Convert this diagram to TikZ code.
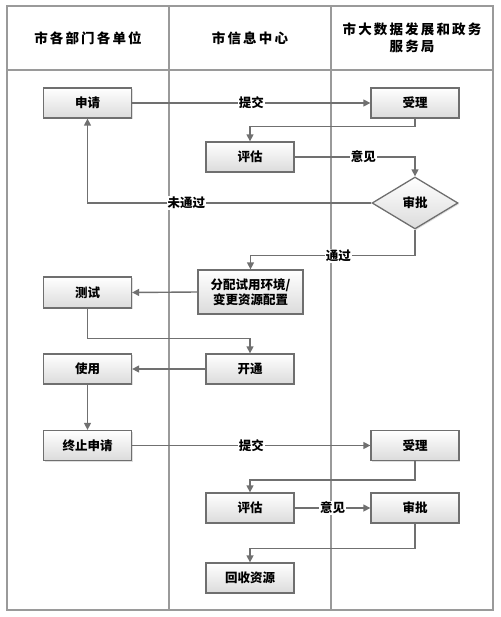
\documentclass[tikz,border=0pt]{standalone}
\usepackage{fontspec}
\newfontfamily\cjk{Noto Sans CJK SC}
\newfontfamily\cjkhead{Noto Sans CJK SC}[LetterSpace=16]
\usetikzlibrary{arrows.meta,shapes.geometric,calc,shadows}
\definecolor{lanecol}{HTML}{9A9A9A}
\definecolor{boxcol}{HTML}{6F6F6F}
\definecolor{linecol}{HTML}{707070}
\tikzset{
  lane/.style={draw=lanecol,line width=2pt},
  procbox/.style={draw=boxcol,line width=1.3pt,top color=white,bottom color=black!14,
    drop shadow={opacity=0.25,shadow xshift=1.2pt,shadow yshift=-1.2pt},
    minimum width=88pt,minimum height=30pt,inner sep=1pt,align=center,
    font=\cjk\bfseries\fontsize{12.5}{14.5}\selectfont},
  decbox/.style={diamond,draw=boxcol,line width=1.3pt,top color=white,bottom color=black!14,
    drop shadow={opacity=0.25,shadow xshift=1.2pt,shadow yshift=-1.2pt},
    minimum width=86pt,minimum height=52pt,aspect=1.65,inner sep=0pt,
    font=\cjk\bfseries\fontsize{12.5}{14.5}\selectfont},
  conn/.style={draw=linecol,line width=1.4pt,-{Triangle[length=7pt,width=7pt]}},
  lbl/.style={fill=white,inner sep=1pt,font=\cjk\bfseries\fontsize{12.5}{14.5}\selectfont},
  headtxt/.style={align=center,font=\cjkhead\bfseries\fontsize{13.5}{17}\selectfont}
}
\begin{document}
\begin{tikzpicture}[x=1pt,y=-1pt]
\useasboundingbox (0,0) rectangle (500,617);
% swimlane frame
\draw[lane] (7,6) rectangle (493,610);
\draw[lane] (7,70) -- (493,70);
\draw[lane] (169,6) -- (169,610);
\draw[lane] (331,6) -- (331,610);
\node[headtxt] (h1) at (88,38) {市各部门各单位};
\node[headtxt] (h2) at (250,38) {市信息中心};
\node[headtxt] (h3) at (412,38) {市大数据发展和政务\\服务局};
% nodes
\node[procbox] (sq) at (87.5,103) {申请};
\node[procbox] (sl1) at (415,103) {受理};
\node[procbox] (pg1) at (250,157) {评估};
\node[decbox] (sp1) at (415,203) {审批};
\node[procbox,minimum width=105pt,minimum height=44pt] (fp) at (250.5,292) {分配试用环境/\\变更资源配置};
\node[procbox,minimum height=31pt] (cs) at (87.5,292.5) {测试};
\node[procbox] (kt) at (250,369) {开通};
\node[procbox] (sy) at (87.5,369) {使用};
\node[procbox] (zz) at (87.5,445.5) {终止申请};
\node[procbox] (sl2) at (415,445.5) {受理};
\node[procbox] (pg2) at (250,508) {评估};
\node[procbox] (sp2) at (415,508) {审批};
\node[procbox] (hs) at (250,578) {回收资源};
% connectors
\draw[conn] (sq.east) -- node[lbl,pos=0.5]{提交} (sl1.west);
\draw[conn] (sl1.south) -- ++(0,8) -| (pg1.north);
\draw[conn] (pg1.east) -| node[lbl,pos=0.285]{意见} (sp1.north);
\draw[conn] (sp1.west) -| node[lbl,pos=0.326]{未通过} (sq.south);
\draw[conn] (sp1.south) -- ++(0,26) -| node[lbl,pos=0.233]{通过} (fp.north);
\draw[conn] (fp.west) -- (cs.east);
\draw[conn] (cs.south) -- ++(0,30) -| (kt.north);
\draw[conn] (kt.west) -- (sy.east);
\draw[conn] (sy.south) -- (zz.north);
\draw[conn] (zz.east) -- node[lbl,pos=0.5]{提交} (sl2.west);
\draw[conn] (sl2.south) -- ++(0,19) -| (pg2.north);
\draw[conn] (pg2.east) -- node[lbl,pos=0.5]{意见} (sp2.west);
\draw[conn] (sp2.south) -- ++(0,25) -| (hs.north);
\end{tikzpicture}
\end{document}
